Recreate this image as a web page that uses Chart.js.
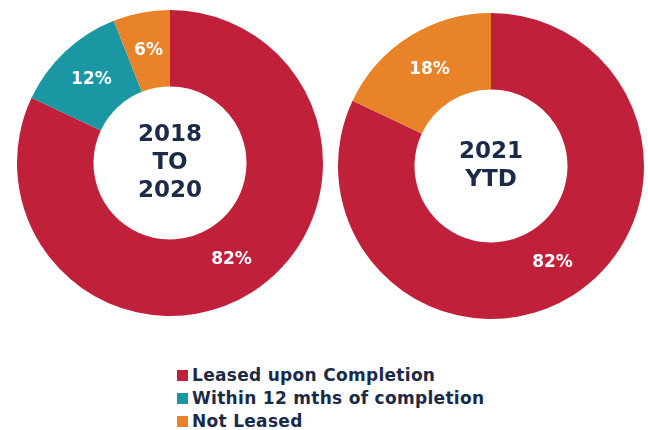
<!DOCTYPE html>
<html><head><meta charset="utf-8">
<script src="https://cdn.jsdelivr.net/npm/chart.js@4/dist/chart.umd.min.js"></script>
<style>
html,body{margin:0;padding:0;background:#fff;width:648px;height:430px;overflow:hidden;}
canvas{position:absolute;}
#legend{position:absolute;left:177px;top:364px;font-family:"DejaVu Sans",sans-serif;font-weight:bold;font-size:17px;letter-spacing:0.3px;color:#1B2A47;}
.row{height:23px;line-height:23px;display:flex;align-items:center;white-space:nowrap;}
.sw{width:11px;height:11px;margin-right:4px;display:inline-block;}
</style></head>
<body>
<canvas id="c1" width="306" height="306" style="left:17px;top:10px"></canvas>
<canvas id="c2" width="306" height="306" style="left:338px;top:13px"></canvas>
<div id="legend"></div>
<script>
const categories = ["Leased upon Completion", "Within 12 mths of completion", "Not Leased"];
const colors = ["#C1203A", "#1A97A3", "#E8832A"];
const values2018to2020 = [82, 12, 6];
const values2021ytd = [82, 0, 18];
const centerText2018 = ["2018", "TO", "2020"];
const centerText2021 = ["2021", "YTD"];

const labelPlugin = {
  id: 'labels',
  afterDatasetsDraw(chart) {
    const ctx = chart.ctx;
    const meta = chart.getDatasetMeta(0);
    const data = chart.data.datasets[0].data;
    ctx.save();
    ctx.fillStyle = '#fff';
    ctx.font = 'bold 17px "DejaVu Sans", sans-serif';
    ctx.textAlign = 'center';
    ctx.textBaseline = 'middle';
    meta.data.forEach((arc, i) => {
      if (!data[i]) return;
      const p = arc.tooltipPosition();
      ctx.fillText(data[i] + '%', p.x, p.y);
    });
    const lines = chart.options.plugins.centerLines || [];
    const cx = (chart.chartArea.left + chart.chartArea.right) / 2;
    const cy = (chart.chartArea.top + chart.chartArea.bottom) / 2;
    ctx.fillStyle = '#1B2A47';
    ctx.font = 'bold 23px "DejaVu Sans", sans-serif';
    const lh = 28;
    const start = cy - (lines.length - 1) * lh / 2;
    lines.forEach((t, i) => ctx.fillText(t, cx, start + i * lh));
    ctx.restore();
  }
};

function makeChart(id, values, lines) {
  return new Chart(document.getElementById(id), {
    type: 'doughnut',
    data: { labels: categories, datasets: [{ data: values, backgroundColor: colors, borderWidth: 0 }] },
    options: {
      responsive: false, animation: false, cutout: '50%',
      layout: { padding: 0 },
      plugins: { legend: { display: false }, tooltip: { enabled: false }, centerLines: lines }
    },
    plugins: [labelPlugin]
  });
}
makeChart('c1', values2018to2020, centerText2018);
makeChart('c2', values2021ytd, centerText2021);

const leg = document.getElementById('legend');
categories.forEach((c, i) => {
  const r = document.createElement('div'); r.className = 'row';
  const s = document.createElement('span'); s.className = 'sw'; s.style.background = colors[i];
  const t = document.createElement('span'); t.textContent = c;
  r.appendChild(s); r.appendChild(t); leg.appendChild(r);
});
</script>
</body></html>
